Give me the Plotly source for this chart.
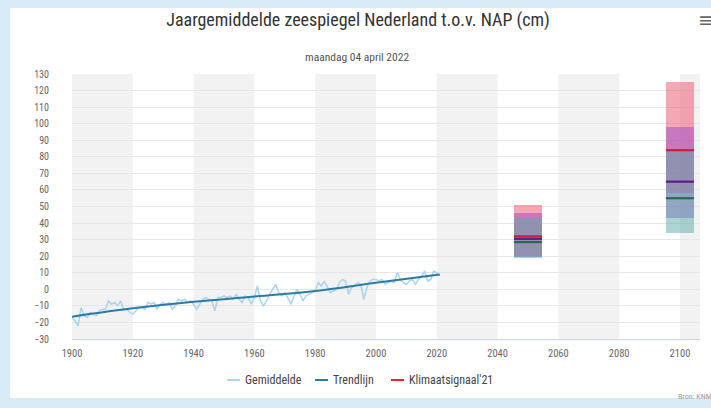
import plotly.graph_objects as go

# ---------------- data ----------------
annual_values = [
    -17, -19, -22, -11, -16, -17, -14, -15, -16, -13,   # 1900-1909
    -12, -12, -7, -9, -8, -10, -7, -12, -12, -14,       # 1910-1919
    -15, -13, -11, -11, -12, -8, -9, -8, -12, -9,       # 1920-1929
    -8, -9, -8, -12, -10, -6, -7, -6, -8, -7,           # 1930-1939
    -9, -12, -9, -6, -5, -6, -7, -13, -5, -5,           # 1940-1949
    -4, -5, -4, -6, -3, -6, -8, -4, -5, -9,             # 1950-1959
    -5, 2, -7, -10, -7, -3, 0, 3, -2, -4,               # 1960-1969
    -2, -5, -9, -4, 0, -3, -7, -4, -3, -2,              # 1970-1979
    -1, 4, 2, 5, 1, -2, -1, 0, 4, 6,                    # 1980-1989
    5, -3, 1, 2, 4, 3, -6, 1, 5, 6,                     # 1990-1999
    6, 5, 6, 3, 4, 5, 4, 10, 6, 4,                      # 2000-2009
    3, 5, 6, 3, 6, 8, 11, 5, 6, 11,                     # 2010-2019
    10, 8,                                              # 2020-2021
]
annual_years = list(range(1900, 1900 + len(annual_values)))

trend_years = [1900, 1920, 1940, 1960, 1980, 2000, 2021]
trend_values = [-16.5, -11.5, -7.5, -4.4, -1.0, 4.0, 9.0]

scen_years = [2050, 2100]
red_low, red_high, red_med = [20, 58], [51, 125], [32, 84]
pur_low, pur_high, pur_med = [19.5, 43], [46, 98], [30.5, 65]
grn_low, grn_high, grn_med = [19, 34], [43, 83], [28.5, 55]

x_ticks = list(range(1900, 2101, 20))
y_ticks = list(range(-30, 131, 10))
band_starts = list(range(1900, 2101, 40))

# ---------------- layout constants ----------------
W, H = 711, 408
L, R, T, B = 72, 11, 74, 69
PW, PH = W - L - R, H - T - B
XMIN, XMAX = 1900, 2106.6
FONT = "Liberation Sans Narrow, Arial Narrow, Roboto Condensed, Liberation Sans, sans-serif"


def px(xp):
    return (xp - L) / PW


def py(yp):
    return (H - B - yp) / PH


fig = go.Figure()

# scenario boxes (semi-transparent, overlaid)
for low, high, col in [(red_low, red_high, "rgba(235,81,105,0.5)"),
                       (pur_low, pur_high, "rgba(155,72,200,0.5)"),
                       (grn_low, grn_high, "rgba(90,170,165,0.5)")]:
    fig.add_trace(go.Bar(x=scen_years, y=[h - l for h, l in zip(high, low)], base=low,
                         width=9, marker=dict(color=col, line=dict(width=0)),
                         showlegend=False, hoverinfo="skip"))

# medians
for med, col in [(red_med, "#c8203c"), (pur_med, "#5e1a86"), (grn_med, "#2c6a4c")]:
    fig.add_trace(go.Scatter(x=scen_years, y=med, mode="markers",
                             marker=dict(symbol="line-ew", size=20, line=dict(width=2.2, color=col)),
                             showlegend=False, hoverinfo="skip"))

fig.add_trace(go.Scatter(x=annual_years, y=annual_values, mode="lines",
                         line=dict(color="#a9d3ee", width=1.5), name="Gemiddelde",
                         showlegend=False))
fig.add_trace(go.Scatter(x=trend_years, y=trend_values, mode="lines", line_shape="spline",
                         line=dict(color="#2e7aa6", width=2), name="Trendlijn",
                         showlegend=False))

shapes = []
# white panel
shapes.append(dict(type="rect", xref="paper", yref="paper", x0=px(10), x1=px(730),
                   y0=py(398), y1=py(8), fillcolor="white", line=dict(width=0), layer="below"))
# plot bands
for s in band_starts:
    shapes.append(dict(type="rect", xref="x", yref="paper", x0=s, x1=min(s + 20, XMAX),
                       y0=0, y1=1, fillcolor="#f2f2f2", line=dict(width=0), layer="below"))

# legend (manual)
legend_items = [("Gemiddelde", "#a9d3ee", 227), ("Trendlijn", "#2e7aa6", 315),
                ("Klimaatsignaal'21", "#e3262f", 391)]
annotations = []
for label, col, x0 in legend_items:
    shapes.append(dict(type="line", xref="paper", yref="paper", x0=px(x0), x1=px(x0 + 13),
                       y0=py(380), y1=py(380), line=dict(color=col, width=2)))
    annotations.append(dict(text=label, xref="paper", yref="paper", x=px(x0 + 16), y=py(380),
                            xanchor="left", yanchor="middle", showarrow=False,
                            font=dict(family=FONT, size=12, color="#444444")))

annotations.append(dict(text="maandag 04 april 2022", xref="paper", yref="paper",
                        x=px(357), y=py(57), xanchor="center", yanchor="middle", showarrow=False,
                        font=dict(family=FONT, size=11.5, color="#555555")))
annotations.append(dict(text="Bron: KNMI", xref="paper", yref="paper", x=px(676), y=py(396),
                        xanchor="left", yanchor="middle", showarrow=False,
                        font=dict(family=FONT, size=8, color="#999999")))
annotations.append(dict(text="≡", xref="paper", yref="paper", x=px(706), y=py(20),
                        xanchor="center", yanchor="middle", showarrow=False,
                        font=dict(family="DejaVu Sans", size=20, color="#666666")))

fig.update_layout(
    width=W, height=H,
    margin=dict(l=L, r=R, t=T, b=B),
    paper_bgcolor="#d9eaf7",
    plot_bgcolor="rgba(0,0,0,0)",
    barmode="overlay",
    bargap=0,
    showlegend=False,
    title=dict(text="Jaargemiddelde zeespiegel Nederland t.o.v. NAP (cm)",
               x=358 / W, xref="container", xanchor="center",
               y=1 - 20 / H, yref="container", yanchor="middle",
               font=dict(family=FONT, size=18, color="#333333")),
    shapes=shapes,
    annotations=annotations,
    font=dict(family=FONT),
)
fig.update_xaxes(range=[XMIN, XMAX], tickvals=x_ticks, showgrid=False, zeroline=False,
                 showline=True, linecolor="#ccd6eb", linewidth=1,
                 ticks="outside", ticklen=4, tickcolor="rgba(0,0,0,0)",
                 tickfont=dict(family=FONT, size=10.5, color="#666666"))
fig.update_yaxes(range=[-30, 130], tickvals=y_ticks, showgrid=True, gridcolor="#e6e6e6",
                 gridwidth=1, zeroline=False, showline=False,
                 ticks="outside", ticklen=20, tickcolor="rgba(0,0,0,0)",
                 tickfont=dict(family=FONT, size=10, color="#666666"))

fig.write_html("out.html",
               config={"displayModeBar": False},
               post_script="document.body.style.margin='0';document.body.style.padding='0';"
                           "document.body.style.overflow='hidden';")
